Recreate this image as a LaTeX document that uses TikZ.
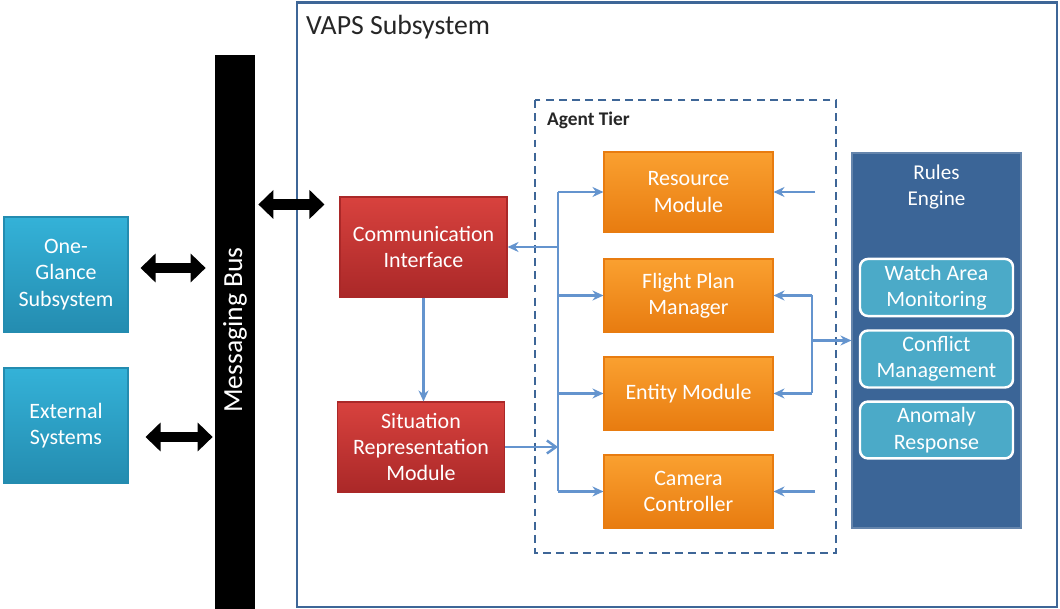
\documentclass[tikz,border=0pt]{standalone}
\usepackage{fontspec}
\setmainfont{Carlito}
\usetikzlibrary{arrows.meta}
\definecolor{vaps_blue}{RGB}{62, 102, 151}
\definecolor{flow_blue}{RGB}{100, 148, 206}
\definecolor{sys_cyan}{RGB}{52, 178, 216}
\definecolor{sys_cyan_dk}{RGB}{36, 140, 176}
\definecolor{mod_red}{RGB}{216, 66, 62}
\definecolor{mod_red_dk}{RGB}{170, 40, 40}
\definecolor{mod_orange}{RGB}{250, 160, 48}
\definecolor{mod_orange_dk}{RGB}{232, 124, 16}
\definecolor{rule_blue}{RGB}{59, 101, 151}
\definecolor{rule_cyan}{RGB}{75, 170, 200}
\tikzstyle{boxtext}=[text=white,align=center,font=\fontsize{12.5}{15}\selectfont]
\tikzstyle{sysbox}=[boxtext,top color=sys_cyan,bottom color=sys_cyan_dk,draw=sys_cyan_dk,
  line width=0.6pt,minimum width=24.8mm,minimum height=23mm]
\tikzstyle{redbox}=[boxtext,top color=mod_red,bottom color=mod_red_dk,draw=mod_red_dk,
  line width=0.6pt,minimum width=33.4mm]
\tikzstyle{agentbox}=[boxtext,top color=mod_orange,bottom color=mod_orange_dk,draw=mod_orange_dk,
  line width=0.6pt,minimum width=33.8mm,minimum height=14.6mm]
\tikzstyle{rulebox}=[boxtext,fill=rule_cyan,draw=white,rounded corners=1.6mm,
  line width=1.4pt,minimum width=30.6mm,minimum height=11.1mm]
\tikzstyle{busarrow}=[line width=6.2pt,{Triangle[width=5.6mm,length=3mm]}-{Triangle[width=5.6mm,length=3mm]}]
\tikzstyle{flow}=[draw=flow_blue,line width=1.4pt]

\begin{document}
\begin{tikzpicture}[x=0.2mm,y=-0.2mm]
    \useasboundingbox (0,0) rectangle (1060,609);
    % VAPS outline and agent tier frame
    \draw[vaps_blue,line width=1.7pt] (297,3) rectangle (1057,607);
    \node[anchor=west,font=\fontsize{15.8}{18}\selectfont,text=black!85] (vaps) at (300,27) {VAPS Subsystem};
    \draw[vaps_blue,line width=1.6pt,dash pattern=on 4.5pt off 3pt] (535,100) rectangle (836,553);
    \node[anchor=west,font=\fontsize{11}{13}\bfseries,text=black!85] (tier) at (541,120) {Agent Tier};

    % outside systems and bus
    \node[sysbox] (oneglance) at (66,274.5) {One-\\Glance\\Subsystem};
    \node[sysbox] (external) at (66,425.5) {External\\Systems};
    \node[fill=black,minimum width=8mm,minimum height=110.8mm,inner sep=0pt] (bus) at (235,332) {};
    \node[rotate=90,text=white,font=\fontsize{15.7}{18}\selectfont] (buslabel) at (235,330) {Messaging Bus};

    % VAPS modules
    \node[redbox,minimum height=20mm] (comm) at (423.5,247) {Communication\\Interface};
    \node[redbox,minimum height=18mm] (sitrep) at (421,447) {Situation\\Representation\\Module};
    \node[agentbox,minimum height=16mm] (resource) at (688.5,192) {Resource\\Module};
    \node[agentbox] (flight) at (688.5,295.5) {Flight Plan\\Manager};
    \node[agentbox] (entity) at (688.5,393.5) {Entity Module};
    \node[agentbox] (camera) at (688.5,491.5) {Camera\\Controller};
    \node[fill=rule_blue,draw=vaps_blue!80!white,line width=0.6pt,minimum width=33.8mm,minimum height=75mm] (rules) at (936.5,340.5) {};
    \node[boxtext,font=\fontsize{12}{15}\selectfont] (rulestitle) at (936.5,187) {Rules\\Engine};
    \node[rulebox] (watch) at (936.5,287.5) {Watch Area\\Monitoring};
    \node[rulebox] (conflict) at (936.5,359) {Conflict\\Management};
    \node[rulebox] (anomaly) at (936.5,430) {Anomaly\\Response};

    % bus connections
    \draw[busarrow,shorten <=0.6mm,shorten >=3mm] ([yshift=-1.6mm]comm.north west -| bus.east) -- ([yshift=-1.6mm]comm.north west);
    \draw[busarrow,shorten <=2.4mm,shorten >=1.8mm] ([yshift=1.3mm]oneglance.east) -- ([yshift=1.3mm]oneglance.east -| bus.west);
    \draw[busarrow,shorten <=3.4mm,shorten >=0.4mm] ([yshift=-2.3mm]external.east) -- ([yshift=-2.3mm]external.east -| bus.west);

    % agent tier wiring
    \coordinate (trunk) at (558,0);
    \coordinate (feed) at (815,0);
    \coordinate (fork) at (812,0);
    \draw[flow,-{Stealth[length=2.2mm,width=2mm]}] (comm.south) -- (comm.south |- sitrep.north);
    \draw[flow] (trunk |- resource.west) -- (trunk |- camera.west);
    \foreach \m in {resource,flight,entity,camera}
        \draw[flow,-{Stealth[length=2.2mm,width=2mm]}] (trunk |- \m.west) -- (\m.west);
    \draw[flow,-{Stealth[length=2.2mm,width=2mm]}] (trunk |- comm.east) -- (comm.east);
    \draw[flow,-{Straight Barb[length=1.8mm,width=2.6mm]}] (sitrep.east) -- (trunk |- sitrep.east);
    \draw[flow,-{Stealth[length=2.2mm,width=2mm]}] (feed |- resource.east) -- (resource.east);
    \draw[flow,-{Stealth[length=2.2mm,width=2mm]}] (feed |- camera.east) -- (camera.east);
    \draw[flow] (fork |- flight.east) -- (fork |- entity.east);
    \draw[flow,-{Stealth[length=2.2mm,width=2mm]}] (fork |- flight.east) -- (flight.east);
    \draw[flow,-{Stealth[length=2.2mm,width=2mm]}] (fork |- entity.east) -- (entity.east);
    \draw[flow,-{Stealth[length=2.2mm,width=2mm]}] (fork |- rules.west) -- (rules.west);
\end{tikzpicture}
\end{document}
